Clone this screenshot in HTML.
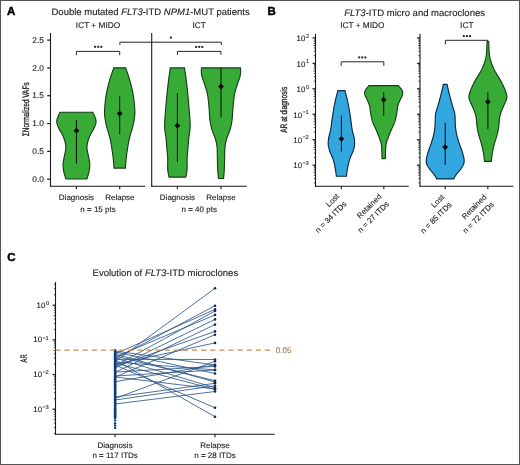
<!DOCTYPE html>
<html><head><meta charset="utf-8"><title>figure</title>
<style>
html,body{margin:0;padding:0;background:#fff;}
body{width:520px;height:465px;overflow:hidden;}
svg{display:block;font-family:"Liberation Sans", sans-serif;text-rendering:geometricPrecision;will-change:transform;}
</style></head>
<body>
<svg width="520" height="465" viewBox="0 0 520 465">
<rect x="0.5" y="0.5" width="519" height="464" fill="#fff" stroke="#555" stroke-width="1"/>
<text x="7.00" y="15.00" font-size="11.5" text-anchor="start" fill="#000" stroke="#000" stroke-width="0.12" font-weight="bold" style="stroke-width:0.45">A</text>
<text x="51.50" y="15.40" font-size="9.5" text-anchor="start" fill="#222" stroke="#222" stroke-width="0.12" >Double mutated <tspan font-style="italic">FLT3</tspan>-ITD <tspan font-style="italic">NPM1</tspan>-MUT patients</text>
<text x="98.00" y="27.90" font-size="8.3" text-anchor="middle" fill="#222" stroke="#222" stroke-width="0.12" >ICT + MIDO</text>
<text x="199.20" y="27.90" font-size="8.3" text-anchor="middle" fill="#222" stroke="#222" stroke-width="0.12" >ICT</text>
<line x1="50.50" y1="33.00" x2="50.50" y2="186.70" stroke="#1a1a1a" stroke-width="1.1" />
<line x1="50.00" y1="186.20" x2="145.40" y2="186.20" stroke="#1a1a1a" stroke-width="1.1" />
<line x1="47.20" y1="179.20" x2="50.50" y2="179.20" stroke="#1a1a1a" stroke-width="1.25" />
<text x="43.90" y="181.80" font-size="8.3" text-anchor="end" fill="#222" stroke="#222" stroke-width="0.12" >0.0</text>
<line x1="47.20" y1="151.38" x2="50.50" y2="151.38" stroke="#1a1a1a" stroke-width="1.25" />
<text x="43.90" y="153.98" font-size="8.3" text-anchor="end" fill="#222" stroke="#222" stroke-width="0.12" >0.5</text>
<line x1="47.20" y1="123.56" x2="50.50" y2="123.56" stroke="#1a1a1a" stroke-width="1.25" />
<text x="43.90" y="126.16" font-size="8.3" text-anchor="end" fill="#222" stroke="#222" stroke-width="0.12" >1.0</text>
<line x1="47.20" y1="95.74" x2="50.50" y2="95.74" stroke="#1a1a1a" stroke-width="1.25" />
<text x="43.90" y="98.34" font-size="8.3" text-anchor="end" fill="#222" stroke="#222" stroke-width="0.12" >1.5</text>
<line x1="47.20" y1="67.92" x2="50.50" y2="67.92" stroke="#1a1a1a" stroke-width="1.25" />
<text x="43.90" y="70.52" font-size="8.3" text-anchor="end" fill="#222" stroke="#222" stroke-width="0.12" >2.0</text>
<line x1="47.20" y1="40.10" x2="50.50" y2="40.10" stroke="#1a1a1a" stroke-width="1.25" />
<text x="43.90" y="42.70" font-size="8.3" text-anchor="end" fill="#222" stroke="#222" stroke-width="0.12" >2.5</text>
<line x1="76.40" y1="186.20" x2="76.40" y2="189.20" stroke="#1a1a1a" stroke-width="1.1" />
<line x1="119.70" y1="186.20" x2="119.70" y2="189.20" stroke="#1a1a1a" stroke-width="1.1" />
<line x1="151.70" y1="33.00" x2="151.70" y2="186.70" stroke="#1a1a1a" stroke-width="1.1" />
<line x1="151.20" y1="186.20" x2="246.70" y2="186.20" stroke="#1a1a1a" stroke-width="1.1" />
<line x1="177.40" y1="186.20" x2="177.40" y2="189.20" stroke="#1a1a1a" stroke-width="1.1" />
<line x1="221.00" y1="186.20" x2="221.00" y2="189.20" stroke="#1a1a1a" stroke-width="1.1" />
<text transform="translate(29.00,109.30) rotate(-90) scale(0.69,1)" font-size="9.4" text-anchor="middle" fill="#222" stroke="#222" stroke-width="0.3">&#931;Normalized VAFs</text>
<path d="M92.91,112.20 L93.09,112.76 L93.31,113.32 L93.56,113.88 L93.83,114.45 L94.09,115.01 L94.35,115.57 L94.60,116.13 L94.83,116.69 L95.06,117.25 L95.27,117.81 L95.47,118.37 L95.65,118.94 L95.80,119.50 L95.92,120.06 L96.01,120.62 L96.05,121.18 L96.05,121.74 L96.01,122.30 L95.93,122.87 L95.81,123.43 L95.66,123.99 L95.49,124.55 L95.30,125.11 L95.10,125.67 L94.88,126.23 L94.66,126.79 L94.42,127.36 L94.16,127.92 L93.89,128.48 L93.59,129.04 L93.28,129.60 L92.95,130.16 L92.61,130.72 L92.27,131.29 L91.92,131.85 L91.59,132.41 L91.26,132.97 L90.95,133.53 L90.65,134.09 L90.38,134.65 L90.11,135.22 L89.86,135.78 L89.62,136.34 L89.38,136.90 L89.16,137.46 L88.94,138.02 L88.73,138.58 L88.54,139.14 L88.35,139.71 L88.18,140.27 L88.02,140.83 L87.87,141.39 L87.74,141.95 L87.61,142.51 L87.49,143.07 L87.38,143.64 L87.28,144.20 L87.19,144.76 L87.11,145.32 L87.05,145.88 L87.00,146.44 L86.97,147.00 L86.97,147.56 L86.99,148.13 L87.02,148.69 L87.08,149.25 L87.16,149.81 L87.25,150.37 L87.35,150.93 L87.46,151.49 L87.57,152.06 L87.69,152.62 L87.82,153.18 L87.94,153.74 L88.05,154.30 L88.17,154.86 L88.28,155.42 L88.39,155.98 L88.51,156.55 L88.62,157.11 L88.73,157.67 L88.85,158.23 L88.97,158.79 L89.09,159.35 L89.20,159.91 L89.31,160.48 L89.41,161.04 L89.50,161.60 L89.58,162.16 L89.64,162.72 L89.69,163.28 L89.73,163.84 L89.75,164.41 L89.75,164.97 L89.74,165.53 L89.72,166.09 L89.69,166.65 L89.64,167.21 L89.59,167.77 L89.53,168.33 L89.46,168.90 L89.39,169.46 L89.31,170.02 L89.22,170.58 L89.12,171.14 L89.01,171.70 L88.88,172.26 L88.74,172.83 L88.59,173.39 L88.43,173.95 L88.26,174.51 L88.09,175.07 L87.91,175.63 L87.73,176.19 L87.56,176.75 L87.39,177.32 L87.23,177.88 L87.09,178.44 L86.98,179.00 L65.82,179.00 L65.71,178.44 L65.57,177.88 L65.41,177.32 L65.24,176.75 L65.07,176.19 L64.89,175.63 L64.71,175.07 L64.54,174.51 L64.37,173.95 L64.21,173.39 L64.06,172.83 L63.92,172.26 L63.79,171.70 L63.68,171.14 L63.58,170.58 L63.49,170.02 L63.41,169.46 L63.34,168.90 L63.27,168.33 L63.21,167.77 L63.16,167.21 L63.11,166.65 L63.08,166.09 L63.06,165.53 L63.05,164.97 L63.05,164.41 L63.07,163.84 L63.11,163.28 L63.16,162.72 L63.22,162.16 L63.30,161.60 L63.39,161.04 L63.49,160.48 L63.60,159.91 L63.71,159.35 L63.83,158.79 L63.95,158.23 L64.07,157.67 L64.18,157.11 L64.29,156.55 L64.41,155.98 L64.52,155.42 L64.63,154.86 L64.75,154.30 L64.86,153.74 L64.98,153.18 L65.11,152.62 L65.23,152.06 L65.34,151.49 L65.45,150.93 L65.55,150.37 L65.64,149.81 L65.72,149.25 L65.78,148.69 L65.81,148.13 L65.83,147.56 L65.83,147.00 L65.80,146.44 L65.75,145.88 L65.69,145.32 L65.61,144.76 L65.52,144.20 L65.42,143.64 L65.31,143.07 L65.19,142.51 L65.06,141.95 L64.93,141.39 L64.78,140.83 L64.62,140.27 L64.45,139.71 L64.26,139.14 L64.07,138.58 L63.86,138.02 L63.64,137.46 L63.42,136.90 L63.18,136.34 L62.94,135.78 L62.69,135.22 L62.42,134.65 L62.15,134.09 L61.85,133.53 L61.54,132.97 L61.21,132.41 L60.88,131.85 L60.53,131.29 L60.19,130.72 L59.85,130.16 L59.52,129.60 L59.21,129.04 L58.91,128.48 L58.64,127.92 L58.38,127.36 L58.14,126.79 L57.92,126.23 L57.70,125.67 L57.50,125.11 L57.31,124.55 L57.14,123.99 L56.99,123.43 L56.87,122.87 L56.79,122.30 L56.75,121.74 L56.75,121.18 L56.79,120.62 L56.88,120.06 L57.00,119.50 L57.15,118.94 L57.33,118.37 L57.53,117.81 L57.74,117.25 L57.97,116.69 L58.20,116.13 L58.45,115.57 L58.71,115.01 L58.97,114.45 L59.24,113.88 L59.49,113.32 L59.71,112.76 L59.89,112.20 Z" fill="#37ab36" stroke="#163f19" stroke-width="1.15" stroke-linejoin="round"/>
<line x1="76.40" y1="120.00" x2="76.40" y2="163.60" stroke="#0a0a0a" stroke-width="1.0" />
<path d="M76.40,127.80 L79.30,130.70 L76.40,133.60 L73.50,130.70 Z" fill="#0a0a0a"/>
<path d="M125.81,67.80 L126.00,68.64 L126.23,69.49 L126.49,70.33 L126.78,71.17 L127.08,72.01 L127.38,72.86 L127.67,73.70 L127.96,74.54 L128.25,75.39 L128.52,76.23 L128.79,77.07 L129.06,77.91 L129.32,78.76 L129.57,79.60 L129.82,80.44 L130.06,81.29 L130.30,82.13 L130.53,82.97 L130.76,83.81 L130.99,84.66 L131.20,85.50 L131.42,86.34 L131.63,87.19 L131.83,88.03 L132.02,88.87 L132.20,89.71 L132.38,90.56 L132.55,91.40 L132.71,92.24 L132.86,93.09 L133.01,93.93 L133.16,94.77 L133.30,95.61 L133.43,96.46 L133.57,97.30 L133.69,98.14 L133.81,98.99 L133.92,99.83 L134.03,100.67 L134.13,101.51 L134.22,102.36 L134.30,103.20 L134.38,104.04 L134.45,104.89 L134.52,105.73 L134.59,106.57 L134.65,107.41 L134.70,108.26 L134.75,109.10 L134.79,109.94 L134.82,110.79 L134.84,111.63 L134.85,112.47 L134.84,113.31 L134.81,114.16 L134.76,115.00 L134.70,115.84 L134.61,116.69 L134.51,117.53 L134.39,118.37 L134.26,119.21 L134.12,120.06 L133.96,120.90 L133.81,121.74 L133.65,122.59 L133.48,123.43 L133.30,124.27 L133.12,125.11 L132.93,125.96 L132.72,126.80 L132.50,127.64 L132.27,128.49 L132.02,129.33 L131.76,130.17 L131.50,131.01 L131.23,131.86 L130.97,132.70 L130.71,133.54 L130.45,134.39 L130.21,135.23 L129.97,136.07 L129.76,136.91 L129.55,137.76 L129.35,138.60 L129.17,139.44 L128.99,140.29 L128.82,141.13 L128.66,141.97 L128.50,142.81 L128.35,143.66 L128.20,144.50 L128.05,145.34 L127.91,146.19 L127.77,147.03 L127.64,147.87 L127.51,148.71 L127.38,149.56 L127.25,150.40 L127.13,151.24 L127.00,152.09 L126.88,152.93 L126.76,153.77 L126.65,154.61 L126.54,155.46 L126.43,156.30 L126.33,157.14 L126.23,157.99 L126.13,158.83 L126.04,159.67 L125.96,160.51 L125.88,161.36 L125.81,162.20 L125.74,163.04 L125.67,163.89 L125.61,164.73 L125.56,165.57 L125.51,166.41 L125.48,167.26 L125.45,168.10 L113.95,168.10 L113.92,167.26 L113.89,166.41 L113.84,165.57 L113.79,164.73 L113.73,163.89 L113.66,163.04 L113.59,162.20 L113.52,161.36 L113.44,160.51 L113.36,159.67 L113.27,158.83 L113.17,157.99 L113.07,157.14 L112.97,156.30 L112.86,155.46 L112.75,154.61 L112.64,153.77 L112.52,152.93 L112.40,152.09 L112.27,151.24 L112.15,150.40 L112.02,149.56 L111.89,148.71 L111.76,147.87 L111.63,147.03 L111.49,146.19 L111.35,145.34 L111.20,144.50 L111.05,143.66 L110.90,142.81 L110.74,141.97 L110.58,141.13 L110.41,140.29 L110.23,139.44 L110.05,138.60 L109.85,137.76 L109.64,136.91 L109.43,136.07 L109.19,135.23 L108.95,134.39 L108.69,133.54 L108.43,132.70 L108.17,131.86 L107.90,131.01 L107.64,130.17 L107.38,129.33 L107.13,128.49 L106.90,127.64 L106.68,126.80 L106.47,125.96 L106.28,125.11 L106.10,124.27 L105.92,123.43 L105.75,122.59 L105.59,121.74 L105.44,120.90 L105.28,120.06 L105.14,119.21 L105.01,118.37 L104.89,117.53 L104.79,116.69 L104.70,115.84 L104.64,115.00 L104.59,114.16 L104.56,113.31 L104.55,112.47 L104.56,111.63 L104.58,110.79 L104.61,109.94 L104.65,109.10 L104.70,108.26 L104.75,107.41 L104.81,106.57 L104.88,105.73 L104.95,104.89 L105.02,104.04 L105.10,103.20 L105.18,102.36 L105.27,101.51 L105.37,100.67 L105.48,99.83 L105.59,98.99 L105.71,98.14 L105.83,97.30 L105.97,96.46 L106.10,95.61 L106.24,94.77 L106.39,93.93 L106.54,93.09 L106.69,92.24 L106.85,91.40 L107.02,90.56 L107.20,89.71 L107.38,88.87 L107.57,88.03 L107.77,87.19 L107.98,86.34 L108.20,85.50 L108.41,84.66 L108.64,83.81 L108.87,82.97 L109.10,82.13 L109.34,81.29 L109.58,80.44 L109.83,79.60 L110.08,78.76 L110.34,77.91 L110.61,77.07 L110.88,76.23 L111.15,75.39 L111.44,74.54 L111.73,73.70 L112.02,72.86 L112.32,72.01 L112.62,71.17 L112.91,70.33 L113.17,69.49 L113.40,68.64 L113.59,67.80 Z" fill="#37ab36" stroke="#163f19" stroke-width="1.15" stroke-linejoin="round"/>
<line x1="119.70" y1="96.30" x2="119.70" y2="134.00" stroke="#0a0a0a" stroke-width="1.0" />
<path d="M119.70,110.70 L122.60,113.60 L119.70,116.50 L116.80,113.60 Z" fill="#0a0a0a"/>
<path d="M184.54,67.90 L184.63,68.82 L184.74,69.74 L184.86,70.65 L185.00,71.57 L185.14,72.49 L185.28,73.41 L185.42,74.32 L185.55,75.24 L185.69,76.16 L185.82,77.08 L185.95,77.99 L186.07,78.91 L186.19,79.83 L186.31,80.75 L186.42,81.66 L186.54,82.58 L186.65,83.50 L186.75,84.42 L186.86,85.34 L186.96,86.25 L187.06,87.17 L187.16,88.09 L187.26,89.01 L187.36,89.92 L187.45,90.84 L187.55,91.76 L187.64,92.68 L187.73,93.59 L187.82,94.51 L187.91,95.43 L187.99,96.35 L188.08,97.26 L188.17,98.18 L188.25,99.10 L188.34,100.02 L188.42,100.94 L188.50,101.85 L188.59,102.77 L188.67,103.69 L188.75,104.61 L188.83,105.52 L188.91,106.44 L188.99,107.36 L189.07,108.28 L189.15,109.19 L189.23,110.11 L189.30,111.03 L189.37,111.95 L189.44,112.86 L189.51,113.78 L189.58,114.70 L189.64,115.62 L189.70,116.54 L189.76,117.45 L189.82,118.37 L189.88,119.29 L189.94,120.21 L189.99,121.12 L190.04,122.04 L190.08,122.96 L190.11,123.88 L190.14,124.79 L190.14,125.71 L190.12,126.63 L190.09,127.55 L190.03,128.46 L189.95,129.38 L189.86,130.30 L189.74,131.22 L189.62,132.14 L189.49,133.05 L189.35,133.97 L189.21,134.89 L189.08,135.81 L188.96,136.72 L188.84,137.64 L188.74,138.56 L188.64,139.48 L188.55,140.39 L188.47,141.31 L188.39,142.23 L188.31,143.15 L188.24,144.06 L188.17,144.98 L188.10,145.90 L188.03,146.82 L187.96,147.74 L187.89,148.65 L187.82,149.57 L187.75,150.49 L187.67,151.41 L187.59,152.32 L187.50,153.24 L187.41,154.16 L187.32,155.08 L187.24,155.99 L187.17,156.91 L187.11,157.83 L187.07,158.75 L187.05,159.66 L187.04,160.58 L187.05,161.50 L187.06,162.42 L187.08,163.34 L187.10,164.25 L187.13,165.17 L187.14,166.09 L187.15,167.01 L187.14,167.92 L187.12,168.84 L187.06,169.76 L186.98,170.68 L186.86,171.59 L186.71,172.51 L186.54,173.43 L186.35,174.35 L186.16,175.26 L185.99,176.18 L185.85,177.10 L168.95,177.10 L168.81,176.18 L168.64,175.26 L168.45,174.35 L168.26,173.43 L168.09,172.51 L167.94,171.59 L167.82,170.68 L167.74,169.76 L167.68,168.84 L167.66,167.92 L167.65,167.01 L167.66,166.09 L167.67,165.17 L167.70,164.25 L167.72,163.34 L167.74,162.42 L167.75,161.50 L167.76,160.58 L167.75,159.66 L167.73,158.75 L167.69,157.83 L167.63,156.91 L167.56,155.99 L167.48,155.08 L167.39,154.16 L167.30,153.24 L167.21,152.32 L167.13,151.41 L167.05,150.49 L166.98,149.57 L166.91,148.65 L166.84,147.74 L166.77,146.82 L166.70,145.90 L166.63,144.98 L166.56,144.06 L166.49,143.15 L166.41,142.23 L166.33,141.31 L166.25,140.39 L166.16,139.48 L166.06,138.56 L165.96,137.64 L165.84,136.72 L165.72,135.81 L165.59,134.89 L165.45,133.97 L165.31,133.05 L165.18,132.14 L165.06,131.22 L164.94,130.30 L164.85,129.38 L164.77,128.46 L164.71,127.55 L164.68,126.63 L164.66,125.71 L164.66,124.79 L164.69,123.88 L164.72,122.96 L164.76,122.04 L164.81,121.12 L164.86,120.21 L164.92,119.29 L164.98,118.37 L165.04,117.45 L165.10,116.54 L165.16,115.62 L165.22,114.70 L165.29,113.78 L165.36,112.86 L165.43,111.95 L165.50,111.03 L165.57,110.11 L165.65,109.19 L165.73,108.28 L165.81,107.36 L165.89,106.44 L165.97,105.52 L166.05,104.61 L166.13,103.69 L166.21,102.77 L166.30,101.85 L166.38,100.94 L166.46,100.02 L166.55,99.10 L166.63,98.18 L166.72,97.26 L166.81,96.35 L166.89,95.43 L166.98,94.51 L167.07,93.59 L167.16,92.68 L167.25,91.76 L167.35,90.84 L167.44,89.92 L167.54,89.01 L167.64,88.09 L167.74,87.17 L167.84,86.25 L167.94,85.34 L168.05,84.42 L168.15,83.50 L168.26,82.58 L168.38,81.66 L168.49,80.75 L168.61,79.83 L168.73,78.91 L168.85,77.99 L168.98,77.08 L169.11,76.16 L169.25,75.24 L169.38,74.32 L169.52,73.41 L169.66,72.49 L169.80,71.57 L169.94,70.65 L170.06,69.74 L170.17,68.82 L170.26,67.90 Z" fill="#37ab36" stroke="#163f19" stroke-width="1.15" stroke-linejoin="round"/>
<line x1="177.40" y1="93.00" x2="177.40" y2="162.00" stroke="#0a0a0a" stroke-width="1.0" />
<path d="M177.40,122.70 L180.30,125.60 L177.40,128.50 L174.50,125.60 Z" fill="#0a0a0a"/>
<path d="M240.56,67.90 L240.58,68.83 L240.61,69.76 L240.63,70.69 L240.63,71.62 L240.61,72.55 L240.55,73.48 L240.44,74.41 L240.29,75.34 L240.08,76.26 L239.82,77.19 L239.53,78.12 L239.21,79.05 L238.89,79.98 L238.57,80.91 L238.25,81.84 L237.93,82.77 L237.62,83.70 L237.30,84.63 L236.99,85.56 L236.68,86.49 L236.37,87.42 L236.07,88.35 L235.78,89.28 L235.51,90.21 L235.25,91.14 L235.02,92.06 L234.80,92.99 L234.61,93.92 L234.44,94.85 L234.28,95.78 L234.14,96.71 L234.01,97.64 L233.88,98.57 L233.77,99.50 L233.66,100.43 L233.55,101.36 L233.46,102.29 L233.36,103.22 L233.27,104.15 L233.19,105.08 L233.10,106.01 L233.03,106.94 L232.96,107.86 L232.89,108.79 L232.82,109.72 L232.76,110.65 L232.71,111.58 L232.65,112.51 L232.60,113.44 L232.54,114.37 L232.48,115.30 L232.41,116.23 L232.34,117.16 L232.25,118.09 L232.16,119.02 L232.05,119.95 L231.92,120.88 L231.78,121.81 L231.63,122.74 L231.46,123.66 L231.28,124.59 L231.09,125.52 L230.88,126.45 L230.65,127.38 L230.41,128.31 L230.15,129.24 L229.86,130.17 L229.55,131.10 L229.21,132.03 L228.85,132.96 L228.47,133.89 L228.10,134.82 L227.72,135.75 L227.36,136.68 L227.03,137.61 L226.71,138.54 L226.43,139.46 L226.17,140.39 L225.94,141.32 L225.73,142.25 L225.54,143.18 L225.36,144.11 L225.21,145.04 L225.08,145.97 L224.98,146.90 L224.89,147.83 L224.83,148.76 L224.79,149.69 L224.75,150.62 L224.73,151.55 L224.71,152.48 L224.69,153.41 L224.68,154.34 L224.67,155.26 L224.65,156.19 L224.64,157.12 L224.62,158.05 L224.60,158.98 L224.58,159.91 L224.56,160.84 L224.54,161.77 L224.51,162.70 L224.49,163.63 L224.46,164.56 L224.43,165.49 L224.40,166.42 L224.37,167.35 L224.33,168.28 L224.29,169.21 L224.25,170.14 L224.20,171.06 L224.14,171.99 L224.07,172.92 L223.99,173.85 L223.90,174.78 L223.80,175.71 L223.70,176.64 L223.61,177.57 L223.53,178.50 L218.47,178.50 L218.39,177.57 L218.30,176.64 L218.20,175.71 L218.10,174.78 L218.01,173.85 L217.93,172.92 L217.86,171.99 L217.80,171.06 L217.75,170.14 L217.71,169.21 L217.67,168.28 L217.63,167.35 L217.60,166.42 L217.57,165.49 L217.54,164.56 L217.51,163.63 L217.49,162.70 L217.46,161.77 L217.44,160.84 L217.42,159.91 L217.40,158.98 L217.38,158.05 L217.36,157.12 L217.35,156.19 L217.33,155.26 L217.32,154.34 L217.31,153.41 L217.29,152.48 L217.27,151.55 L217.25,150.62 L217.21,149.69 L217.17,148.76 L217.11,147.83 L217.02,146.90 L216.92,145.97 L216.79,145.04 L216.64,144.11 L216.46,143.18 L216.27,142.25 L216.06,141.32 L215.83,140.39 L215.57,139.46 L215.29,138.54 L214.97,137.61 L214.64,136.68 L214.28,135.75 L213.90,134.82 L213.53,133.89 L213.15,132.96 L212.79,132.03 L212.45,131.10 L212.14,130.17 L211.85,129.24 L211.59,128.31 L211.35,127.38 L211.12,126.45 L210.91,125.52 L210.72,124.59 L210.54,123.66 L210.37,122.74 L210.22,121.81 L210.08,120.88 L209.95,119.95 L209.84,119.02 L209.75,118.09 L209.66,117.16 L209.59,116.23 L209.52,115.30 L209.46,114.37 L209.40,113.44 L209.35,112.51 L209.29,111.58 L209.24,110.65 L209.18,109.72 L209.11,108.79 L209.04,107.86 L208.97,106.94 L208.90,106.01 L208.81,105.08 L208.73,104.15 L208.64,103.22 L208.54,102.29 L208.45,101.36 L208.34,100.43 L208.23,99.50 L208.12,98.57 L207.99,97.64 L207.86,96.71 L207.72,95.78 L207.56,94.85 L207.39,93.92 L207.20,92.99 L206.98,92.06 L206.75,91.14 L206.49,90.21 L206.22,89.28 L205.93,88.35 L205.63,87.42 L205.32,86.49 L205.01,85.56 L204.70,84.63 L204.38,83.70 L204.07,82.77 L203.75,81.84 L203.43,80.91 L203.11,79.98 L202.79,79.05 L202.47,78.12 L202.18,77.19 L201.92,76.26 L201.71,75.34 L201.56,74.41 L201.45,73.48 L201.39,72.55 L201.37,71.62 L201.37,70.69 L201.39,69.76 L201.42,68.83 L201.44,67.90 Z" fill="#37ab36" stroke="#163f19" stroke-width="1.15" stroke-linejoin="round"/>
<line x1="221.00" y1="67.90" x2="221.00" y2="117.40" stroke="#0a0a0a" stroke-width="1.0" />
<path d="M221.00,83.60 L223.90,86.50 L221.00,89.40 L218.10,86.50 Z" fill="#0a0a0a"/>
<path d="M76.40,55.20 L76.40,51.40 L119.70,51.40 L119.70,55.20" fill="none" stroke="#262626" stroke-width="1.0"/>
<rect x="94.10" y="45.80" width="2.0" height="2.0" fill="#2a2a2a"/>
<rect x="97.20" y="45.80" width="2.0" height="2.0" fill="#2a2a2a"/>
<rect x="100.30" y="45.80" width="2.0" height="2.0" fill="#2a2a2a"/>
<path d="M177.40,54.80 L177.40,51.40 L221.00,51.40 L221.00,54.80" fill="none" stroke="#262626" stroke-width="1.0"/>
<rect x="195.10" y="45.90" width="2.0" height="2.0" fill="#2a2a2a"/>
<rect x="198.20" y="45.90" width="2.0" height="2.0" fill="#2a2a2a"/>
<rect x="201.30" y="45.90" width="2.0" height="2.0" fill="#2a2a2a"/>
<path d="M119.90,44.80 L119.90,42.20 L221.30,42.20 L221.30,45.00" fill="none" stroke="#262626" stroke-width="1.0"/>
<rect x="169.90" y="36.60" width="2.0" height="2.0" fill="#2a2a2a"/>
<text x="76.40" y="199.80" font-size="8.0" text-anchor="middle" fill="#222" stroke="#222" stroke-width="0.12" >Diagnosis</text>
<text x="119.90" y="199.80" font-size="8.0" text-anchor="middle" fill="#222" stroke="#222" stroke-width="0.12" >Relapse</text>
<text x="98.00" y="211.90" font-size="8.0" text-anchor="middle" fill="#222" stroke="#222" stroke-width="0.12" >n = 15 pts</text>
<text x="177.40" y="199.80" font-size="8.0" text-anchor="middle" fill="#222" stroke="#222" stroke-width="0.12" >Diagnosis</text>
<text x="221.00" y="199.80" font-size="8.0" text-anchor="middle" fill="#222" stroke="#222" stroke-width="0.12" >Relapse</text>
<text x="199.20" y="211.90" font-size="8.0" text-anchor="middle" fill="#222" stroke="#222" stroke-width="0.12" >n = 40 pts</text>
<text x="267.50" y="14.90" font-size="11.5" text-anchor="start" fill="#000" stroke="#000" stroke-width="0.12" font-weight="bold" style="stroke-width:0.45">B</text>
<text x="344.20" y="15.50" font-size="9.5" text-anchor="start" fill="#222" stroke="#222" stroke-width="0.12" ><tspan font-style="italic">FLT3</tspan>-ITD micro and macroclones</text>
<text x="362.30" y="28.10" font-size="8.3" text-anchor="middle" fill="#222" stroke="#222" stroke-width="0.12" >ICT + MIDO</text>
<text x="466.80" y="28.10" font-size="8.3" text-anchor="middle" fill="#222" stroke="#222" stroke-width="0.12" >ICT</text>
<line x1="315.50" y1="33.80" x2="315.50" y2="186.70" stroke="#1a1a1a" stroke-width="1.1" />
<line x1="313.90" y1="182.98" x2="315.50" y2="182.98" stroke="#1a1a1a" stroke-width="0.8" />
<line x1="313.90" y1="178.49" x2="315.50" y2="178.49" stroke="#1a1a1a" stroke-width="0.8" />
<line x1="313.90" y1="175.31" x2="315.50" y2="175.31" stroke="#1a1a1a" stroke-width="0.8" />
<line x1="313.50" y1="172.84" x2="315.50" y2="172.84" stroke="#1a1a1a" stroke-width="0.8" />
<line x1="313.90" y1="170.83" x2="315.50" y2="170.83" stroke="#1a1a1a" stroke-width="0.8" />
<line x1="313.90" y1="169.12" x2="315.50" y2="169.12" stroke="#1a1a1a" stroke-width="0.8" />
<line x1="313.90" y1="167.65" x2="315.50" y2="167.65" stroke="#1a1a1a" stroke-width="0.8" />
<line x1="313.90" y1="166.34" x2="315.50" y2="166.34" stroke="#1a1a1a" stroke-width="0.8" />
<line x1="312.50" y1="165.18" x2="315.50" y2="165.18" stroke="#1a1a1a" stroke-width="1.2" />
<text x="302.10" y="168.48" font-size="7.9" text-anchor="end" fill="#222" stroke="#222" stroke-width="0.12">10</text>
<text x="302.60" y="164.88" font-size="5.8" letter-spacing="-0.5" fill="#222" stroke="#222" stroke-width="0.08">&#8722;3</text>
<line x1="313.90" y1="157.52" x2="315.50" y2="157.52" stroke="#1a1a1a" stroke-width="0.8" />
<line x1="313.90" y1="153.03" x2="315.50" y2="153.03" stroke="#1a1a1a" stroke-width="0.8" />
<line x1="313.90" y1="149.85" x2="315.50" y2="149.85" stroke="#1a1a1a" stroke-width="0.8" />
<line x1="313.50" y1="147.38" x2="315.50" y2="147.38" stroke="#1a1a1a" stroke-width="0.8" />
<line x1="313.90" y1="145.37" x2="315.50" y2="145.37" stroke="#1a1a1a" stroke-width="0.8" />
<line x1="313.90" y1="143.66" x2="315.50" y2="143.66" stroke="#1a1a1a" stroke-width="0.8" />
<line x1="313.90" y1="142.19" x2="315.50" y2="142.19" stroke="#1a1a1a" stroke-width="0.8" />
<line x1="313.90" y1="140.88" x2="315.50" y2="140.88" stroke="#1a1a1a" stroke-width="0.8" />
<line x1="312.50" y1="139.72" x2="315.50" y2="139.72" stroke="#1a1a1a" stroke-width="1.2" />
<text x="302.10" y="143.02" font-size="7.9" text-anchor="end" fill="#222" stroke="#222" stroke-width="0.12">10</text>
<text x="302.60" y="139.42" font-size="5.8" letter-spacing="-0.5" fill="#222" stroke="#222" stroke-width="0.08">&#8722;2</text>
<line x1="313.90" y1="132.06" x2="315.50" y2="132.06" stroke="#1a1a1a" stroke-width="0.8" />
<line x1="313.90" y1="127.57" x2="315.50" y2="127.57" stroke="#1a1a1a" stroke-width="0.8" />
<line x1="313.90" y1="124.39" x2="315.50" y2="124.39" stroke="#1a1a1a" stroke-width="0.8" />
<line x1="313.50" y1="121.92" x2="315.50" y2="121.92" stroke="#1a1a1a" stroke-width="0.8" />
<line x1="313.90" y1="119.91" x2="315.50" y2="119.91" stroke="#1a1a1a" stroke-width="0.8" />
<line x1="313.90" y1="118.20" x2="315.50" y2="118.20" stroke="#1a1a1a" stroke-width="0.8" />
<line x1="313.90" y1="116.73" x2="315.50" y2="116.73" stroke="#1a1a1a" stroke-width="0.8" />
<line x1="313.90" y1="115.42" x2="315.50" y2="115.42" stroke="#1a1a1a" stroke-width="0.8" />
<line x1="312.50" y1="114.26" x2="315.50" y2="114.26" stroke="#1a1a1a" stroke-width="1.2" />
<text x="302.10" y="117.56" font-size="7.9" text-anchor="end" fill="#222" stroke="#222" stroke-width="0.12">10</text>
<text x="302.60" y="113.96" font-size="5.8" letter-spacing="-0.5" fill="#222" stroke="#222" stroke-width="0.08">&#8722;1</text>
<line x1="313.90" y1="106.60" x2="315.50" y2="106.60" stroke="#1a1a1a" stroke-width="0.8" />
<line x1="313.90" y1="102.11" x2="315.50" y2="102.11" stroke="#1a1a1a" stroke-width="0.8" />
<line x1="313.90" y1="98.93" x2="315.50" y2="98.93" stroke="#1a1a1a" stroke-width="0.8" />
<line x1="313.50" y1="96.46" x2="315.50" y2="96.46" stroke="#1a1a1a" stroke-width="0.8" />
<line x1="313.90" y1="94.45" x2="315.50" y2="94.45" stroke="#1a1a1a" stroke-width="0.8" />
<line x1="313.90" y1="92.74" x2="315.50" y2="92.74" stroke="#1a1a1a" stroke-width="0.8" />
<line x1="313.90" y1="91.27" x2="315.50" y2="91.27" stroke="#1a1a1a" stroke-width="0.8" />
<line x1="313.90" y1="89.96" x2="315.50" y2="89.96" stroke="#1a1a1a" stroke-width="0.8" />
<line x1="312.50" y1="88.80" x2="315.50" y2="88.80" stroke="#1a1a1a" stroke-width="1.2" />
<text x="305.40" y="92.10" font-size="7.9" text-anchor="end" fill="#222" stroke="#222" stroke-width="0.12">10</text>
<text x="305.90" y="88.50" font-size="5.8" letter-spacing="-0.5" fill="#222" stroke="#222" stroke-width="0.08">0</text>
<line x1="313.90" y1="81.14" x2="315.50" y2="81.14" stroke="#1a1a1a" stroke-width="0.8" />
<line x1="313.90" y1="76.65" x2="315.50" y2="76.65" stroke="#1a1a1a" stroke-width="0.8" />
<line x1="313.90" y1="73.47" x2="315.50" y2="73.47" stroke="#1a1a1a" stroke-width="0.8" />
<line x1="313.50" y1="71.00" x2="315.50" y2="71.00" stroke="#1a1a1a" stroke-width="0.8" />
<line x1="313.90" y1="68.99" x2="315.50" y2="68.99" stroke="#1a1a1a" stroke-width="0.8" />
<line x1="313.90" y1="67.28" x2="315.50" y2="67.28" stroke="#1a1a1a" stroke-width="0.8" />
<line x1="313.90" y1="65.81" x2="315.50" y2="65.81" stroke="#1a1a1a" stroke-width="0.8" />
<line x1="313.90" y1="64.50" x2="315.50" y2="64.50" stroke="#1a1a1a" stroke-width="0.8" />
<line x1="312.50" y1="63.34" x2="315.50" y2="63.34" stroke="#1a1a1a" stroke-width="1.2" />
<text x="305.40" y="66.64" font-size="7.9" text-anchor="end" fill="#222" stroke="#222" stroke-width="0.12">10</text>
<text x="305.90" y="63.04" font-size="5.8" letter-spacing="-0.5" fill="#222" stroke="#222" stroke-width="0.08">1</text>
<line x1="313.90" y1="55.68" x2="315.50" y2="55.68" stroke="#1a1a1a" stroke-width="0.8" />
<line x1="313.90" y1="51.19" x2="315.50" y2="51.19" stroke="#1a1a1a" stroke-width="0.8" />
<line x1="313.90" y1="48.01" x2="315.50" y2="48.01" stroke="#1a1a1a" stroke-width="0.8" />
<line x1="313.50" y1="45.54" x2="315.50" y2="45.54" stroke="#1a1a1a" stroke-width="0.8" />
<line x1="313.90" y1="43.53" x2="315.50" y2="43.53" stroke="#1a1a1a" stroke-width="0.8" />
<line x1="313.90" y1="41.82" x2="315.50" y2="41.82" stroke="#1a1a1a" stroke-width="0.8" />
<line x1="313.90" y1="40.35" x2="315.50" y2="40.35" stroke="#1a1a1a" stroke-width="0.8" />
<line x1="313.90" y1="39.04" x2="315.50" y2="39.04" stroke="#1a1a1a" stroke-width="0.8" />
<line x1="312.50" y1="37.88" x2="315.50" y2="37.88" stroke="#1a1a1a" stroke-width="1.2" />
<text x="305.40" y="41.18" font-size="7.9" text-anchor="end" fill="#222" stroke="#222" stroke-width="0.12">10</text>
<text x="305.90" y="37.58" font-size="5.8" letter-spacing="-0.5" fill="#222" stroke="#222" stroke-width="0.08">2</text>
<line x1="315.00" y1="186.20" x2="408.80" y2="186.20" stroke="#1a1a1a" stroke-width="1.1" />
<line x1="420.00" y1="33.80" x2="420.00" y2="186.70" stroke="#1a1a1a" stroke-width="1.1" />
<line x1="418.40" y1="182.98" x2="420.00" y2="182.98" stroke="#1a1a1a" stroke-width="0.8" />
<line x1="418.40" y1="178.49" x2="420.00" y2="178.49" stroke="#1a1a1a" stroke-width="0.8" />
<line x1="418.40" y1="175.31" x2="420.00" y2="175.31" stroke="#1a1a1a" stroke-width="0.8" />
<line x1="418.00" y1="172.84" x2="420.00" y2="172.84" stroke="#1a1a1a" stroke-width="0.8" />
<line x1="418.40" y1="170.83" x2="420.00" y2="170.83" stroke="#1a1a1a" stroke-width="0.8" />
<line x1="418.40" y1="169.12" x2="420.00" y2="169.12" stroke="#1a1a1a" stroke-width="0.8" />
<line x1="418.40" y1="167.65" x2="420.00" y2="167.65" stroke="#1a1a1a" stroke-width="0.8" />
<line x1="418.40" y1="166.34" x2="420.00" y2="166.34" stroke="#1a1a1a" stroke-width="0.8" />
<line x1="417.00" y1="165.18" x2="420.00" y2="165.18" stroke="#1a1a1a" stroke-width="1.2" />
<line x1="418.40" y1="157.52" x2="420.00" y2="157.52" stroke="#1a1a1a" stroke-width="0.8" />
<line x1="418.40" y1="153.03" x2="420.00" y2="153.03" stroke="#1a1a1a" stroke-width="0.8" />
<line x1="418.40" y1="149.85" x2="420.00" y2="149.85" stroke="#1a1a1a" stroke-width="0.8" />
<line x1="418.00" y1="147.38" x2="420.00" y2="147.38" stroke="#1a1a1a" stroke-width="0.8" />
<line x1="418.40" y1="145.37" x2="420.00" y2="145.37" stroke="#1a1a1a" stroke-width="0.8" />
<line x1="418.40" y1="143.66" x2="420.00" y2="143.66" stroke="#1a1a1a" stroke-width="0.8" />
<line x1="418.40" y1="142.19" x2="420.00" y2="142.19" stroke="#1a1a1a" stroke-width="0.8" />
<line x1="418.40" y1="140.88" x2="420.00" y2="140.88" stroke="#1a1a1a" stroke-width="0.8" />
<line x1="417.00" y1="139.72" x2="420.00" y2="139.72" stroke="#1a1a1a" stroke-width="1.2" />
<line x1="418.40" y1="132.06" x2="420.00" y2="132.06" stroke="#1a1a1a" stroke-width="0.8" />
<line x1="418.40" y1="127.57" x2="420.00" y2="127.57" stroke="#1a1a1a" stroke-width="0.8" />
<line x1="418.40" y1="124.39" x2="420.00" y2="124.39" stroke="#1a1a1a" stroke-width="0.8" />
<line x1="418.00" y1="121.92" x2="420.00" y2="121.92" stroke="#1a1a1a" stroke-width="0.8" />
<line x1="418.40" y1="119.91" x2="420.00" y2="119.91" stroke="#1a1a1a" stroke-width="0.8" />
<line x1="418.40" y1="118.20" x2="420.00" y2="118.20" stroke="#1a1a1a" stroke-width="0.8" />
<line x1="418.40" y1="116.73" x2="420.00" y2="116.73" stroke="#1a1a1a" stroke-width="0.8" />
<line x1="418.40" y1="115.42" x2="420.00" y2="115.42" stroke="#1a1a1a" stroke-width="0.8" />
<line x1="417.00" y1="114.26" x2="420.00" y2="114.26" stroke="#1a1a1a" stroke-width="1.2" />
<line x1="418.40" y1="106.60" x2="420.00" y2="106.60" stroke="#1a1a1a" stroke-width="0.8" />
<line x1="418.40" y1="102.11" x2="420.00" y2="102.11" stroke="#1a1a1a" stroke-width="0.8" />
<line x1="418.40" y1="98.93" x2="420.00" y2="98.93" stroke="#1a1a1a" stroke-width="0.8" />
<line x1="418.00" y1="96.46" x2="420.00" y2="96.46" stroke="#1a1a1a" stroke-width="0.8" />
<line x1="418.40" y1="94.45" x2="420.00" y2="94.45" stroke="#1a1a1a" stroke-width="0.8" />
<line x1="418.40" y1="92.74" x2="420.00" y2="92.74" stroke="#1a1a1a" stroke-width="0.8" />
<line x1="418.40" y1="91.27" x2="420.00" y2="91.27" stroke="#1a1a1a" stroke-width="0.8" />
<line x1="418.40" y1="89.96" x2="420.00" y2="89.96" stroke="#1a1a1a" stroke-width="0.8" />
<line x1="417.00" y1="88.80" x2="420.00" y2="88.80" stroke="#1a1a1a" stroke-width="1.2" />
<line x1="418.40" y1="81.14" x2="420.00" y2="81.14" stroke="#1a1a1a" stroke-width="0.8" />
<line x1="418.40" y1="76.65" x2="420.00" y2="76.65" stroke="#1a1a1a" stroke-width="0.8" />
<line x1="418.40" y1="73.47" x2="420.00" y2="73.47" stroke="#1a1a1a" stroke-width="0.8" />
<line x1="418.00" y1="71.00" x2="420.00" y2="71.00" stroke="#1a1a1a" stroke-width="0.8" />
<line x1="418.40" y1="68.99" x2="420.00" y2="68.99" stroke="#1a1a1a" stroke-width="0.8" />
<line x1="418.40" y1="67.28" x2="420.00" y2="67.28" stroke="#1a1a1a" stroke-width="0.8" />
<line x1="418.40" y1="65.81" x2="420.00" y2="65.81" stroke="#1a1a1a" stroke-width="0.8" />
<line x1="418.40" y1="64.50" x2="420.00" y2="64.50" stroke="#1a1a1a" stroke-width="0.8" />
<line x1="417.00" y1="63.34" x2="420.00" y2="63.34" stroke="#1a1a1a" stroke-width="1.2" />
<line x1="418.40" y1="55.68" x2="420.00" y2="55.68" stroke="#1a1a1a" stroke-width="0.8" />
<line x1="418.40" y1="51.19" x2="420.00" y2="51.19" stroke="#1a1a1a" stroke-width="0.8" />
<line x1="418.40" y1="48.01" x2="420.00" y2="48.01" stroke="#1a1a1a" stroke-width="0.8" />
<line x1="418.00" y1="45.54" x2="420.00" y2="45.54" stroke="#1a1a1a" stroke-width="0.8" />
<line x1="418.40" y1="43.53" x2="420.00" y2="43.53" stroke="#1a1a1a" stroke-width="0.8" />
<line x1="418.40" y1="41.82" x2="420.00" y2="41.82" stroke="#1a1a1a" stroke-width="0.8" />
<line x1="418.40" y1="40.35" x2="420.00" y2="40.35" stroke="#1a1a1a" stroke-width="0.8" />
<line x1="418.40" y1="39.04" x2="420.00" y2="39.04" stroke="#1a1a1a" stroke-width="0.8" />
<line x1="417.00" y1="37.88" x2="420.00" y2="37.88" stroke="#1a1a1a" stroke-width="1.2" />
<line x1="419.50" y1="186.20" x2="513.30" y2="186.20" stroke="#1a1a1a" stroke-width="1.1" />
<line x1="341.30" y1="186.20" x2="341.30" y2="189.20" stroke="#1a1a1a" stroke-width="1.1" />
<line x1="383.80" y1="186.20" x2="383.80" y2="189.20" stroke="#1a1a1a" stroke-width="1.1" />
<line x1="445.20" y1="186.20" x2="445.20" y2="189.20" stroke="#1a1a1a" stroke-width="1.1" />
<line x1="487.80" y1="186.20" x2="487.80" y2="189.20" stroke="#1a1a1a" stroke-width="1.1" />
<text transform="translate(286.60,109.80) rotate(-90) scale(0.7,1)" font-size="9.4" text-anchor="middle" fill="#222" stroke="#222" stroke-width="0.3">AR at diagnosis</text>
<path d="M345.01,90.60 L345.13,91.32 L345.28,92.04 L345.46,92.76 L345.65,93.48 L345.85,94.20 L346.05,94.92 L346.25,95.64 L346.44,96.35 L346.62,97.07 L346.81,97.79 L346.99,98.51 L347.16,99.23 L347.33,99.95 L347.49,100.67 L347.65,101.39 L347.80,102.11 L347.95,102.83 L348.10,103.55 L348.24,104.27 L348.38,104.99 L348.52,105.71 L348.65,106.43 L348.78,107.14 L348.91,107.86 L349.04,108.58 L349.16,109.30 L349.28,110.02 L349.40,110.74 L349.52,111.46 L349.64,112.18 L349.76,112.90 L349.87,113.62 L349.99,114.34 L350.10,115.06 L350.21,115.78 L350.32,116.50 L350.43,117.22 L350.53,117.93 L350.64,118.65 L350.74,119.37 L350.85,120.09 L350.95,120.81 L351.05,121.53 L351.14,122.25 L351.24,122.97 L351.33,123.69 L351.42,124.41 L351.51,125.13 L351.60,125.85 L351.69,126.57 L351.78,127.29 L351.88,128.01 L351.98,128.72 L352.10,129.44 L352.24,130.16 L352.39,130.88 L352.55,131.60 L352.73,132.32 L352.93,133.04 L353.13,133.76 L353.33,134.48 L353.52,135.20 L353.71,135.92 L353.88,136.64 L354.03,137.36 L354.16,138.08 L354.27,138.79 L354.37,139.51 L354.45,140.23 L354.51,140.95 L354.57,141.67 L354.60,142.39 L354.62,143.11 L354.61,143.83 L354.57,144.55 L354.50,145.27 L354.40,145.99 L354.27,146.71 L354.10,147.43 L353.92,148.15 L353.71,148.87 L353.50,149.58 L353.27,150.30 L353.03,151.02 L352.78,151.74 L352.51,152.46 L352.23,153.18 L351.94,153.90 L351.63,154.62 L351.32,155.34 L351.00,156.06 L350.69,156.78 L350.39,157.50 L350.10,158.22 L349.83,158.94 L349.58,159.66 L349.35,160.37 L349.14,161.09 L348.95,161.81 L348.76,162.53 L348.59,163.25 L348.43,163.97 L348.28,164.69 L348.13,165.41 L347.99,166.13 L347.85,166.85 L347.72,167.57 L347.59,168.29 L347.46,169.01 L347.34,169.73 L347.22,170.45 L347.10,171.16 L346.99,171.88 L346.88,172.60 L346.78,173.32 L346.69,174.04 L346.61,174.76 L346.54,175.48 L346.49,176.20 L336.31,176.20 L336.26,175.48 L336.19,174.76 L336.11,174.04 L336.02,173.32 L335.92,172.60 L335.81,171.88 L335.70,171.16 L335.58,170.45 L335.46,169.73 L335.34,169.01 L335.21,168.29 L335.08,167.57 L334.95,166.85 L334.81,166.13 L334.67,165.41 L334.52,164.69 L334.37,163.97 L334.21,163.25 L334.04,162.53 L333.85,161.81 L333.66,161.09 L333.45,160.37 L333.22,159.66 L332.97,158.94 L332.70,158.22 L332.41,157.50 L332.11,156.78 L331.80,156.06 L331.48,155.34 L331.17,154.62 L330.86,153.90 L330.57,153.18 L330.29,152.46 L330.02,151.74 L329.77,151.02 L329.53,150.30 L329.30,149.58 L329.09,148.87 L328.88,148.15 L328.70,147.43 L328.53,146.71 L328.40,145.99 L328.30,145.27 L328.23,144.55 L328.19,143.83 L328.18,143.11 L328.20,142.39 L328.23,141.67 L328.29,140.95 L328.35,140.23 L328.43,139.51 L328.53,138.79 L328.64,138.08 L328.77,137.36 L328.92,136.64 L329.09,135.92 L329.28,135.20 L329.47,134.48 L329.67,133.76 L329.87,133.04 L330.07,132.32 L330.25,131.60 L330.41,130.88 L330.56,130.16 L330.70,129.44 L330.82,128.72 L330.92,128.01 L331.02,127.29 L331.11,126.57 L331.20,125.85 L331.29,125.13 L331.38,124.41 L331.47,123.69 L331.56,122.97 L331.66,122.25 L331.75,121.53 L331.85,120.81 L331.95,120.09 L332.06,119.37 L332.16,118.65 L332.27,117.93 L332.37,117.22 L332.48,116.50 L332.59,115.78 L332.70,115.06 L332.81,114.34 L332.93,113.62 L333.04,112.90 L333.16,112.18 L333.28,111.46 L333.40,110.74 L333.52,110.02 L333.64,109.30 L333.76,108.58 L333.89,107.86 L334.02,107.14 L334.15,106.43 L334.28,105.71 L334.42,104.99 L334.56,104.27 L334.70,103.55 L334.85,102.83 L335.00,102.11 L335.15,101.39 L335.31,100.67 L335.47,99.95 L335.64,99.23 L335.81,98.51 L335.99,97.79 L336.18,97.07 L336.36,96.35 L336.55,95.64 L336.75,94.92 L336.95,94.20 L337.15,93.48 L337.34,92.76 L337.52,92.04 L337.67,91.32 L337.79,90.60 Z" fill="#32a6df" stroke="#0b2a40" stroke-width="1.15" stroke-linejoin="round"/>
<line x1="341.40" y1="115.60" x2="341.40" y2="151.50" stroke="#0a0a0a" stroke-width="1.0" />
<path d="M341.40,135.90 L344.30,138.80 L341.40,141.70 L338.50,138.80 Z" fill="#0a0a0a"/>
<path d="M398.48,85.60 L398.92,86.21 L399.44,86.83 L399.99,87.44 L400.53,88.05 L401.03,88.67 L401.47,89.28 L401.85,89.89 L402.17,90.51 L402.41,91.12 L402.60,91.73 L402.71,92.35 L402.76,92.96 L402.73,93.57 L402.63,94.19 L402.47,94.80 L402.26,95.42 L402.00,96.03 L401.72,96.64 L401.42,97.26 L401.12,97.87 L400.82,98.48 L400.53,99.10 L400.24,99.71 L399.96,100.32 L399.68,100.94 L399.40,101.55 L399.14,102.16 L398.88,102.78 L398.63,103.39 L398.40,104.00 L398.19,104.62 L398.00,105.23 L397.83,105.84 L397.69,106.46 L397.57,107.07 L397.47,107.68 L397.38,108.30 L397.30,108.91 L397.22,109.52 L397.15,110.14 L397.08,110.75 L397.01,111.36 L396.93,111.98 L396.85,112.59 L396.76,113.21 L396.66,113.82 L396.56,114.43 L396.44,115.05 L396.31,115.66 L396.19,116.27 L396.05,116.89 L395.92,117.50 L395.79,118.11 L395.65,118.73 L395.51,119.34 L395.37,119.95 L395.22,120.57 L395.05,121.18 L394.86,121.79 L394.64,122.41 L394.41,123.02 L394.15,123.63 L393.87,124.25 L393.58,124.86 L393.29,125.47 L392.99,126.09 L392.69,126.70 L392.41,127.31 L392.12,127.93 L391.85,128.54 L391.58,129.15 L391.31,129.77 L391.05,130.38 L390.79,130.99 L390.53,131.61 L390.27,132.22 L390.02,132.84 L389.77,133.45 L389.53,134.06 L389.29,134.68 L389.05,135.29 L388.82,135.90 L388.59,136.52 L388.36,137.13 L388.13,137.74 L387.90,138.36 L387.67,138.97 L387.44,139.58 L387.22,140.20 L387.00,140.81 L386.79,141.42 L386.60,142.04 L386.43,142.65 L386.28,143.26 L386.15,143.88 L386.04,144.49 L385.95,145.10 L385.89,145.72 L385.83,146.33 L385.79,146.94 L385.75,147.56 L385.71,148.17 L385.68,148.78 L385.64,149.40 L385.61,150.01 L385.59,150.63 L385.56,151.24 L385.54,151.85 L385.51,152.47 L385.49,153.08 L385.48,153.69 L385.46,154.31 L385.45,154.92 L385.43,155.53 L385.42,156.15 L385.42,156.76 L385.41,157.37 L385.41,157.99 L385.40,158.60 L382.00,158.60 L381.99,157.99 L381.99,157.37 L381.98,156.76 L381.98,156.15 L381.97,155.53 L381.95,154.92 L381.94,154.31 L381.92,153.69 L381.91,153.08 L381.89,152.47 L381.86,151.85 L381.84,151.24 L381.81,150.63 L381.79,150.01 L381.76,149.40 L381.72,148.78 L381.69,148.17 L381.65,147.56 L381.61,146.94 L381.57,146.33 L381.51,145.72 L381.45,145.10 L381.36,144.49 L381.25,143.88 L381.12,143.26 L380.97,142.65 L380.80,142.04 L380.61,141.42 L380.40,140.81 L380.18,140.20 L379.96,139.58 L379.73,138.97 L379.50,138.36 L379.27,137.74 L379.04,137.13 L378.81,136.52 L378.58,135.90 L378.35,135.29 L378.11,134.68 L377.87,134.06 L377.63,133.45 L377.38,132.84 L377.13,132.22 L376.87,131.61 L376.61,130.99 L376.35,130.38 L376.09,129.77 L375.82,129.15 L375.55,128.54 L375.28,127.93 L374.99,127.31 L374.71,126.70 L374.41,126.09 L374.11,125.47 L373.82,124.86 L373.53,124.25 L373.25,123.63 L372.99,123.02 L372.76,122.41 L372.54,121.79 L372.35,121.18 L372.18,120.57 L372.03,119.95 L371.89,119.34 L371.75,118.73 L371.61,118.11 L371.48,117.50 L371.35,116.89 L371.21,116.27 L371.09,115.66 L370.96,115.05 L370.84,114.43 L370.74,113.82 L370.64,113.21 L370.55,112.59 L370.47,111.98 L370.39,111.36 L370.32,110.75 L370.25,110.14 L370.18,109.52 L370.10,108.91 L370.02,108.30 L369.93,107.68 L369.83,107.07 L369.71,106.46 L369.57,105.84 L369.40,105.23 L369.21,104.62 L369.00,104.00 L368.77,103.39 L368.52,102.78 L368.26,102.16 L368.00,101.55 L367.72,100.94 L367.44,100.32 L367.16,99.71 L366.87,99.10 L366.58,98.48 L366.28,97.87 L365.98,97.26 L365.68,96.64 L365.40,96.03 L365.14,95.42 L364.93,94.80 L364.77,94.19 L364.67,93.57 L364.64,92.96 L364.69,92.35 L364.80,91.73 L364.99,91.12 L365.23,90.51 L365.55,89.89 L365.93,89.28 L366.37,88.67 L366.87,88.05 L367.41,87.44 L367.96,86.83 L368.48,86.21 L368.92,85.60 Z" fill="#37ab36" stroke="#163f19" stroke-width="1.15" stroke-linejoin="round"/>
<line x1="383.70" y1="92.60" x2="383.70" y2="115.80" stroke="#0a0a0a" stroke-width="1.0" />
<path d="M383.70,96.90 L386.60,99.80 L383.70,102.70 L380.80,99.80 Z" fill="#0a0a0a"/>
<path d="M447.18,84.40 L447.28,85.19 L447.42,85.99 L447.57,86.78 L447.75,87.58 L447.93,88.37 L448.12,89.16 L448.31,89.96 L448.50,90.75 L448.69,91.55 L448.89,92.34 L449.09,93.14 L449.29,93.93 L449.49,94.72 L449.69,95.52 L449.89,96.31 L450.10,97.11 L450.31,97.90 L450.52,98.69 L450.73,99.49 L450.94,100.28 L451.16,101.08 L451.37,101.87 L451.59,102.66 L451.81,103.46 L452.03,104.25 L452.25,105.05 L452.49,105.84 L452.73,106.64 L452.98,107.43 L453.23,108.22 L453.49,109.02 L453.75,109.81 L454.00,110.61 L454.23,111.40 L454.44,112.19 L454.61,112.99 L454.76,113.78 L454.87,114.58 L454.96,115.37 L455.02,116.16 L455.06,116.96 L455.10,117.75 L455.12,118.55 L455.14,119.34 L455.16,120.14 L455.18,120.93 L455.20,121.72 L455.22,122.52 L455.25,123.31 L455.28,124.11 L455.33,124.90 L455.38,125.69 L455.44,126.49 L455.51,127.28 L455.60,128.08 L455.69,128.87 L455.80,129.66 L455.91,130.46 L456.04,131.25 L456.17,132.05 L456.31,132.84 L456.47,133.64 L456.64,134.43 L456.82,135.22 L457.02,136.02 L457.22,136.81 L457.44,137.61 L457.67,138.40 L457.90,139.19 L458.14,139.99 L458.39,140.78 L458.63,141.58 L458.89,142.37 L459.15,143.16 L459.42,143.96 L459.69,144.75 L459.98,145.55 L460.27,146.34 L460.57,147.14 L460.87,147.93 L461.17,148.72 L461.46,149.52 L461.75,150.31 L462.02,151.11 L462.28,151.90 L462.52,152.69 L462.75,153.49 L462.97,154.28 L463.19,155.08 L463.39,155.87 L463.58,156.66 L463.76,157.46 L463.92,158.25 L464.05,159.05 L464.14,159.84 L464.19,160.64 L464.19,161.43 L464.11,162.22 L463.96,163.02 L463.73,163.81 L463.42,164.61 L463.04,165.40 L462.61,166.19 L462.13,166.99 L461.62,167.78 L461.07,168.58 L460.49,169.37 L459.87,170.16 L459.23,170.96 L458.56,171.75 L457.88,172.55 L457.21,173.34 L456.57,174.14 L455.97,174.93 L455.42,175.72 L454.93,176.52 L454.51,177.31 L454.17,178.11 L453.91,178.90 L436.49,178.90 L436.23,178.11 L435.89,177.31 L435.47,176.52 L434.98,175.72 L434.43,174.93 L433.83,174.14 L433.19,173.34 L432.52,172.55 L431.84,171.75 L431.17,170.96 L430.53,170.16 L429.91,169.37 L429.33,168.58 L428.78,167.78 L428.27,166.99 L427.79,166.19 L427.36,165.40 L426.98,164.61 L426.67,163.81 L426.44,163.02 L426.29,162.22 L426.21,161.43 L426.21,160.64 L426.26,159.84 L426.35,159.05 L426.48,158.25 L426.64,157.46 L426.82,156.66 L427.01,155.87 L427.21,155.08 L427.43,154.28 L427.65,153.49 L427.88,152.69 L428.12,151.90 L428.38,151.11 L428.65,150.31 L428.94,149.52 L429.23,148.72 L429.53,147.93 L429.83,147.14 L430.13,146.34 L430.42,145.55 L430.71,144.75 L430.98,143.96 L431.25,143.16 L431.51,142.37 L431.77,141.58 L432.01,140.78 L432.26,139.99 L432.50,139.19 L432.73,138.40 L432.96,137.61 L433.18,136.81 L433.38,136.02 L433.58,135.22 L433.76,134.43 L433.93,133.64 L434.09,132.84 L434.23,132.05 L434.36,131.25 L434.49,130.46 L434.60,129.66 L434.71,128.87 L434.80,128.08 L434.89,127.28 L434.96,126.49 L435.02,125.69 L435.07,124.90 L435.12,124.11 L435.15,123.31 L435.18,122.52 L435.20,121.72 L435.22,120.93 L435.24,120.14 L435.26,119.34 L435.28,118.55 L435.30,117.75 L435.34,116.96 L435.38,116.16 L435.44,115.37 L435.53,114.58 L435.64,113.78 L435.79,112.99 L435.96,112.19 L436.17,111.40 L436.40,110.61 L436.65,109.81 L436.91,109.02 L437.17,108.22 L437.42,107.43 L437.67,106.64 L437.91,105.84 L438.15,105.05 L438.37,104.25 L438.59,103.46 L438.81,102.66 L439.03,101.87 L439.24,101.08 L439.46,100.28 L439.67,99.49 L439.88,98.69 L440.09,97.90 L440.30,97.11 L440.51,96.31 L440.71,95.52 L440.91,94.72 L441.11,93.93 L441.31,93.14 L441.51,92.34 L441.71,91.55 L441.90,90.75 L442.09,89.96 L442.28,89.16 L442.47,88.37 L442.65,87.58 L442.83,86.78 L442.98,85.99 L443.12,85.19 L443.22,84.40 Z" fill="#32a6df" stroke="#0b2a40" stroke-width="1.15" stroke-linejoin="round"/>
<line x1="445.20" y1="122.70" x2="445.20" y2="164.80" stroke="#0a0a0a" stroke-width="1.0" />
<path d="M445.20,144.10 L448.10,147.00 L445.20,149.90 L442.30,147.00 Z" fill="#0a0a0a"/>
<path d="M488.73,41.30 L488.75,42.31 L488.77,43.32 L488.80,44.33 L488.84,45.33 L488.88,46.34 L488.93,47.35 L488.98,48.36 L489.03,49.37 L489.08,50.38 L489.15,51.38 L489.22,52.39 L489.30,53.40 L489.40,54.41 L489.53,55.42 L489.68,56.43 L489.87,57.43 L490.10,58.44 L490.36,59.45 L490.64,60.46 L490.96,61.47 L491.29,62.48 L491.63,63.48 L492.00,64.49 L492.38,65.50 L492.78,66.51 L493.20,67.52 L493.65,68.53 L494.13,69.54 L494.64,70.54 L495.18,71.55 L495.76,72.56 L496.35,73.57 L496.96,74.58 L497.58,75.59 L498.20,76.59 L498.82,77.60 L499.43,78.61 L500.04,79.62 L500.63,80.63 L501.21,81.64 L501.76,82.64 L502.28,83.65 L502.78,84.66 L503.25,85.67 L503.69,86.68 L504.12,87.69 L504.53,88.69 L504.93,89.70 L505.32,90.71 L505.69,91.72 L506.05,92.73 L506.38,93.74 L506.64,94.75 L506.82,95.75 L506.88,96.76 L506.82,97.77 L506.63,98.78 L506.34,99.79 L505.97,100.80 L505.54,101.80 L505.09,102.81 L504.63,103.82 L504.17,104.83 L503.71,105.84 L503.26,106.85 L502.82,107.85 L502.40,108.86 L501.99,109.87 L501.59,110.88 L501.21,111.89 L500.85,112.90 L500.52,113.91 L500.23,114.91 L499.97,115.92 L499.76,116.93 L499.59,117.94 L499.46,118.95 L499.36,119.96 L499.27,120.96 L499.20,121.97 L499.13,122.98 L499.04,123.99 L498.95,125.00 L498.83,126.01 L498.70,127.01 L498.54,128.02 L498.37,129.03 L498.18,130.04 L497.98,131.05 L497.76,132.06 L497.53,133.06 L497.28,134.07 L497.02,135.08 L496.74,136.09 L496.44,137.10 L496.13,138.11 L495.82,139.12 L495.50,140.12 L495.18,141.13 L494.87,142.14 L494.58,143.15 L494.30,144.16 L494.03,145.17 L493.78,146.17 L493.54,147.18 L493.32,148.19 L493.10,149.20 L492.90,150.21 L492.70,151.22 L492.52,152.22 L492.34,153.23 L492.18,154.24 L492.02,155.25 L491.88,156.26 L491.75,157.27 L491.64,158.27 L491.54,159.28 L491.46,160.29 L491.40,161.30 L484.40,161.30 L484.34,160.29 L484.26,159.28 L484.16,158.27 L484.05,157.27 L483.92,156.26 L483.78,155.25 L483.62,154.24 L483.46,153.23 L483.28,152.22 L483.10,151.22 L482.90,150.21 L482.70,149.20 L482.48,148.19 L482.26,147.18 L482.02,146.17 L481.77,145.17 L481.50,144.16 L481.22,143.15 L480.93,142.14 L480.62,141.13 L480.30,140.12 L479.98,139.12 L479.67,138.11 L479.36,137.10 L479.06,136.09 L478.78,135.08 L478.52,134.07 L478.27,133.06 L478.04,132.06 L477.82,131.05 L477.62,130.04 L477.43,129.03 L477.26,128.02 L477.10,127.01 L476.97,126.01 L476.85,125.00 L476.76,123.99 L476.67,122.98 L476.60,121.97 L476.53,120.96 L476.44,119.96 L476.34,118.95 L476.21,117.94 L476.04,116.93 L475.83,115.92 L475.57,114.91 L475.28,113.91 L474.95,112.90 L474.59,111.89 L474.21,110.88 L473.81,109.87 L473.40,108.86 L472.98,107.85 L472.54,106.85 L472.09,105.84 L471.63,104.83 L471.17,103.82 L470.71,102.81 L470.26,101.80 L469.83,100.80 L469.46,99.79 L469.17,98.78 L468.98,97.77 L468.92,96.76 L468.98,95.75 L469.16,94.75 L469.42,93.74 L469.75,92.73 L470.11,91.72 L470.48,90.71 L470.87,89.70 L471.27,88.69 L471.68,87.69 L472.11,86.68 L472.55,85.67 L473.02,84.66 L473.52,83.65 L474.04,82.64 L474.59,81.64 L475.17,80.63 L475.76,79.62 L476.37,78.61 L476.98,77.60 L477.60,76.59 L478.22,75.59 L478.84,74.58 L479.45,73.57 L480.04,72.56 L480.62,71.55 L481.16,70.54 L481.67,69.54 L482.15,68.53 L482.60,67.52 L483.02,66.51 L483.42,65.50 L483.80,64.49 L484.17,63.48 L484.51,62.48 L484.84,61.47 L485.16,60.46 L485.44,59.45 L485.70,58.44 L485.93,57.43 L486.12,56.43 L486.27,55.42 L486.40,54.41 L486.50,53.40 L486.58,52.39 L486.65,51.38 L486.72,50.38 L486.77,49.37 L486.82,48.36 L486.87,47.35 L486.92,46.34 L486.96,45.33 L487.00,44.33 L487.03,43.32 L487.05,42.31 L487.07,41.30 Z" fill="#37ab36" stroke="#163f19" stroke-width="1.15" stroke-linejoin="round"/>
<line x1="487.90" y1="92.30" x2="487.90" y2="128.90" stroke="#0a0a0a" stroke-width="1.0" />
<path d="M487.90,98.90 L490.80,101.80 L487.90,104.70 L485.00,101.80 Z" fill="#0a0a0a"/>
<path d="M341.20,65.80 L341.20,61.80 L383.80,61.80 L383.80,65.80" fill="none" stroke="#262626" stroke-width="1.0"/>
<rect x="358.20" y="56.40" width="2.0" height="2.0" fill="#2a2a2a"/>
<rect x="361.30" y="56.40" width="2.0" height="2.0" fill="#2a2a2a"/>
<rect x="364.40" y="56.40" width="2.0" height="2.0" fill="#2a2a2a"/>
<path d="M445.40,44.30 L445.40,40.30 L488.10,40.30 L488.10,40.30" fill="none" stroke="#262626" stroke-width="1.0"/>
<rect x="462.80" y="35.10" width="2.0" height="2.0" fill="#2a2a2a"/>
<rect x="465.90" y="35.10" width="2.0" height="2.0" fill="#2a2a2a"/>
<rect x="469.00" y="35.10" width="2.0" height="2.0" fill="#2a2a2a"/>
<text stroke="#222" stroke-width="0.12" transform="translate(340.50,198.00) rotate(-45)" font-size="7.8" text-anchor="end" fill="#222"><tspan x="0" y="-1.4">Lost</tspan><tspan x="0" y="9.2">n = 34 ITDs</tspan></text>
<text stroke="#222" stroke-width="0.12" transform="translate(383.00,198.00) rotate(-45)" font-size="7.8" text-anchor="end" fill="#222"><tspan x="0" y="-1.4">Retained</tspan><tspan x="0" y="9.2">n = 27 ITDs</tspan></text>
<text stroke="#222" stroke-width="0.12" transform="translate(445.70,198.80) rotate(-45)" font-size="7.8" text-anchor="end" fill="#222"><tspan x="0" y="-1.4">Lost</tspan><tspan x="0" y="9.2">n = 85 ITDs</tspan></text>
<text stroke="#222" stroke-width="0.12" transform="translate(488.00,198.60) rotate(-45)" font-size="7.8" text-anchor="end" fill="#222"><tspan x="0" y="-1.4">Retained</tspan><tspan x="0" y="9.2">n = 72 ITDs</tspan></text>
<text x="7.30" y="261.30" font-size="11.5" text-anchor="start" fill="#000" stroke="#000" stroke-width="0.12" font-weight="bold" style="stroke-width:0.45">C</text>
<text x="92.60" y="275.80" font-size="9.5" text-anchor="start" fill="#222" stroke="#222" stroke-width="0.12" >Evolution of <tspan font-style="italic">FLT3</tspan>-ITD microclones</text>
<line x1="55.50" y1="282.00" x2="55.50" y2="434.80" stroke="#1a1a1a" stroke-width="1.1" />
<line x1="53.90" y1="433.44" x2="55.50" y2="433.44" stroke="#1a1a1a" stroke-width="0.8" />
<line x1="53.90" y1="427.34" x2="55.50" y2="427.34" stroke="#1a1a1a" stroke-width="0.8" />
<line x1="53.90" y1="423.01" x2="55.50" y2="423.01" stroke="#1a1a1a" stroke-width="0.8" />
<line x1="53.50" y1="419.65" x2="55.50" y2="419.65" stroke="#1a1a1a" stroke-width="0.8" />
<line x1="53.90" y1="416.90" x2="55.50" y2="416.90" stroke="#1a1a1a" stroke-width="0.8" />
<line x1="53.90" y1="414.58" x2="55.50" y2="414.58" stroke="#1a1a1a" stroke-width="0.8" />
<line x1="53.90" y1="412.57" x2="55.50" y2="412.57" stroke="#1a1a1a" stroke-width="0.8" />
<line x1="53.90" y1="410.80" x2="55.50" y2="410.80" stroke="#1a1a1a" stroke-width="0.8" />
<line x1="52.50" y1="409.21" x2="55.50" y2="409.21" stroke="#1a1a1a" stroke-width="1.2" />
<text x="42.10" y="411.71" font-size="7.9" text-anchor="end" fill="#222" stroke="#222" stroke-width="0.12">10</text>
<text x="42.60" y="408.91" font-size="5.8" letter-spacing="-0.5" fill="#222" stroke="#222" stroke-width="0.08">&#8722;3</text>
<line x1="53.90" y1="398.77" x2="55.50" y2="398.77" stroke="#1a1a1a" stroke-width="0.8" />
<line x1="53.90" y1="392.67" x2="55.50" y2="392.67" stroke="#1a1a1a" stroke-width="0.8" />
<line x1="53.90" y1="388.34" x2="55.50" y2="388.34" stroke="#1a1a1a" stroke-width="0.8" />
<line x1="53.50" y1="384.98" x2="55.50" y2="384.98" stroke="#1a1a1a" stroke-width="0.8" />
<line x1="53.90" y1="382.23" x2="55.50" y2="382.23" stroke="#1a1a1a" stroke-width="0.8" />
<line x1="53.90" y1="379.91" x2="55.50" y2="379.91" stroke="#1a1a1a" stroke-width="0.8" />
<line x1="53.90" y1="377.90" x2="55.50" y2="377.90" stroke="#1a1a1a" stroke-width="0.8" />
<line x1="53.90" y1="376.13" x2="55.50" y2="376.13" stroke="#1a1a1a" stroke-width="0.8" />
<line x1="52.50" y1="374.54" x2="55.50" y2="374.54" stroke="#1a1a1a" stroke-width="1.2" />
<text x="42.10" y="377.04" font-size="7.9" text-anchor="end" fill="#222" stroke="#222" stroke-width="0.12">10</text>
<text x="42.60" y="374.24" font-size="5.8" letter-spacing="-0.5" fill="#222" stroke="#222" stroke-width="0.08">&#8722;2</text>
<line x1="53.90" y1="364.10" x2="55.50" y2="364.10" stroke="#1a1a1a" stroke-width="0.8" />
<line x1="53.90" y1="358.00" x2="55.50" y2="358.00" stroke="#1a1a1a" stroke-width="0.8" />
<line x1="53.90" y1="353.67" x2="55.50" y2="353.67" stroke="#1a1a1a" stroke-width="0.8" />
<line x1="53.50" y1="350.31" x2="55.50" y2="350.31" stroke="#1a1a1a" stroke-width="0.8" />
<line x1="53.90" y1="347.56" x2="55.50" y2="347.56" stroke="#1a1a1a" stroke-width="0.8" />
<line x1="53.90" y1="345.24" x2="55.50" y2="345.24" stroke="#1a1a1a" stroke-width="0.8" />
<line x1="53.90" y1="343.23" x2="55.50" y2="343.23" stroke="#1a1a1a" stroke-width="0.8" />
<line x1="53.90" y1="341.46" x2="55.50" y2="341.46" stroke="#1a1a1a" stroke-width="0.8" />
<line x1="52.50" y1="339.87" x2="55.50" y2="339.87" stroke="#1a1a1a" stroke-width="1.2" />
<text x="42.10" y="342.37" font-size="7.9" text-anchor="end" fill="#222" stroke="#222" stroke-width="0.12">10</text>
<text x="42.60" y="339.57" font-size="5.8" letter-spacing="-0.5" fill="#222" stroke="#222" stroke-width="0.08">&#8722;1</text>
<line x1="53.90" y1="329.43" x2="55.50" y2="329.43" stroke="#1a1a1a" stroke-width="0.8" />
<line x1="53.90" y1="323.33" x2="55.50" y2="323.33" stroke="#1a1a1a" stroke-width="0.8" />
<line x1="53.90" y1="319.00" x2="55.50" y2="319.00" stroke="#1a1a1a" stroke-width="0.8" />
<line x1="53.50" y1="315.64" x2="55.50" y2="315.64" stroke="#1a1a1a" stroke-width="0.8" />
<line x1="53.90" y1="312.89" x2="55.50" y2="312.89" stroke="#1a1a1a" stroke-width="0.8" />
<line x1="53.90" y1="310.57" x2="55.50" y2="310.57" stroke="#1a1a1a" stroke-width="0.8" />
<line x1="53.90" y1="308.56" x2="55.50" y2="308.56" stroke="#1a1a1a" stroke-width="0.8" />
<line x1="53.90" y1="306.79" x2="55.50" y2="306.79" stroke="#1a1a1a" stroke-width="0.8" />
<line x1="52.50" y1="305.20" x2="55.50" y2="305.20" stroke="#1a1a1a" stroke-width="1.2" />
<text x="45.40" y="307.70" font-size="7.9" text-anchor="end" fill="#222" stroke="#222" stroke-width="0.12">10</text>
<text x="45.90" y="304.90" font-size="5.8" letter-spacing="-0.5" fill="#222" stroke="#222" stroke-width="0.08">0</text>
<line x1="53.90" y1="294.76" x2="55.50" y2="294.76" stroke="#1a1a1a" stroke-width="0.8" />
<line x1="53.90" y1="288.66" x2="55.50" y2="288.66" stroke="#1a1a1a" stroke-width="0.8" />
<line x1="53.90" y1="284.33" x2="55.50" y2="284.33" stroke="#1a1a1a" stroke-width="0.8" />
<line x1="55.00" y1="434.30" x2="274.60" y2="434.30" stroke="#1a1a1a" stroke-width="1.1" />
<line x1="115.10" y1="434.30" x2="115.10" y2="437.30" stroke="#1a1a1a" stroke-width="1.1" />
<line x1="215.00" y1="434.30" x2="215.00" y2="437.30" stroke="#1a1a1a" stroke-width="1.1" />
<text transform="translate(26.80,358.40) rotate(-90) scale(0.62,1)" font-size="9.4" text-anchor="middle" fill="#222" stroke="#222" stroke-width="0.3">AR</text>
<text x="115.10" y="448.00" font-size="8.0" text-anchor="middle" fill="#222" stroke="#222" stroke-width="0.12" >Diagnosis</text>
<text x="115.10" y="457.70" font-size="8.0" text-anchor="middle" fill="#222" stroke="#222" stroke-width="0.12" >n = 117 ITDs</text>
<text x="215.00" y="448.00" font-size="8.0" text-anchor="middle" fill="#222" stroke="#222" stroke-width="0.12" >Relapse</text>
<text x="215.00" y="457.70" font-size="8.0" text-anchor="middle" fill="#222" stroke="#222" stroke-width="0.12" >n = 28 ITDs</text>
<text x="275.80" y="352.80" font-size="8.1" text-anchor="start" fill="#a8784a" stroke="#a8784a" stroke-width="0.12" >0.05</text>
<line x1="115.10" y1="361.60" x2="215.00" y2="288.30" stroke="#2e578a" stroke-width="0.85" />
<line x1="115.10" y1="358.80" x2="215.00" y2="305.70" stroke="#2e578a" stroke-width="0.85" />
<line x1="115.10" y1="354.00" x2="215.00" y2="309.40" stroke="#2e578a" stroke-width="0.85" />
<line x1="115.10" y1="365.80" x2="215.00" y2="311.00" stroke="#2e578a" stroke-width="0.85" />
<line x1="115.10" y1="357.00" x2="215.00" y2="314.90" stroke="#2e578a" stroke-width="0.85" />
<line x1="115.10" y1="368.00" x2="215.00" y2="319.40" stroke="#2e578a" stroke-width="0.85" />
<line x1="115.10" y1="372.30" x2="215.00" y2="324.60" stroke="#2e578a" stroke-width="0.85" />
<line x1="115.10" y1="366.60" x2="215.00" y2="331.40" stroke="#2e578a" stroke-width="0.85" />
<line x1="115.10" y1="377.00" x2="215.00" y2="334.70" stroke="#2e578a" stroke-width="0.85" />
<line x1="115.10" y1="364.40" x2="215.00" y2="342.90" stroke="#2e578a" stroke-width="0.85" />
<line x1="115.10" y1="359.30" x2="215.00" y2="359.50" stroke="#2e578a" stroke-width="0.85" />
<line x1="115.10" y1="398.40" x2="215.00" y2="361.30" stroke="#2e578a" stroke-width="0.85" />
<line x1="115.10" y1="381.70" x2="215.00" y2="364.80" stroke="#2e578a" stroke-width="0.85" />
<line x1="115.10" y1="372.00" x2="215.00" y2="366.40" stroke="#2e578a" stroke-width="0.85" />
<line x1="115.10" y1="362.00" x2="215.00" y2="369.90" stroke="#2e578a" stroke-width="0.85" />
<line x1="115.10" y1="352.00" x2="215.00" y2="373.50" stroke="#2e578a" stroke-width="0.85" />
<line x1="115.10" y1="356.00" x2="215.00" y2="380.70" stroke="#2e578a" stroke-width="0.85" />
<line x1="115.10" y1="397.00" x2="215.00" y2="383.30" stroke="#2e578a" stroke-width="0.85" />
<line x1="115.10" y1="404.00" x2="215.00" y2="391.50" stroke="#2e578a" stroke-width="0.85" />
<line x1="115.10" y1="358.00" x2="215.00" y2="387.80" stroke="#2e578a" stroke-width="0.85" />
<line x1="115.10" y1="363.00" x2="215.00" y2="389.40" stroke="#2e578a" stroke-width="0.85" />
<line x1="115.10" y1="377.00" x2="215.00" y2="389.00" stroke="#2e578a" stroke-width="0.85" />
<line x1="115.10" y1="365.00" x2="215.00" y2="407.80" stroke="#2e578a" stroke-width="0.85" />
<line x1="115.10" y1="360.00" x2="215.00" y2="416.70" stroke="#2e578a" stroke-width="0.85" />
<line x1="115.10" y1="400.00" x2="215.00" y2="385.80" stroke="#2e578a" stroke-width="0.85" />
<line x1="115.10" y1="354.00" x2="215.00" y2="382.00" stroke="#2e578a" stroke-width="0.85" />
<line x1="115.10" y1="376.00" x2="215.00" y2="370.00" stroke="#2e578a" stroke-width="0.85" />
<line x1="115.10" y1="351.00" x2="215.00" y2="365.00" stroke="#2e578a" stroke-width="0.85" />
<circle cx="115.1" cy="350.30" r="1.2" fill="#123e78"/>
<circle cx="115.1" cy="350.90" r="1.2" fill="#123e78"/>
<circle cx="115.1" cy="351.51" r="1.2" fill="#123e78"/>
<circle cx="115.1" cy="352.11" r="1.2" fill="#123e78"/>
<circle cx="115.1" cy="352.72" r="1.2" fill="#123e78"/>
<circle cx="115.1" cy="353.32" r="1.2" fill="#123e78"/>
<circle cx="115.1" cy="353.93" r="1.2" fill="#123e78"/>
<circle cx="115.1" cy="354.53" r="1.2" fill="#123e78"/>
<circle cx="115.1" cy="355.14" r="1.2" fill="#123e78"/>
<circle cx="115.1" cy="355.74" r="1.2" fill="#123e78"/>
<circle cx="115.1" cy="356.34" r="1.2" fill="#123e78"/>
<circle cx="115.1" cy="356.95" r="1.2" fill="#123e78"/>
<circle cx="115.1" cy="357.55" r="1.2" fill="#123e78"/>
<circle cx="115.1" cy="358.16" r="1.2" fill="#123e78"/>
<circle cx="115.1" cy="358.76" r="1.2" fill="#123e78"/>
<circle cx="115.1" cy="359.37" r="1.2" fill="#123e78"/>
<circle cx="115.1" cy="359.97" r="1.2" fill="#123e78"/>
<circle cx="115.1" cy="360.58" r="1.2" fill="#123e78"/>
<circle cx="115.1" cy="361.18" r="1.2" fill="#123e78"/>
<circle cx="115.1" cy="361.78" r="1.2" fill="#123e78"/>
<circle cx="115.1" cy="362.39" r="1.2" fill="#123e78"/>
<circle cx="115.1" cy="362.99" r="1.2" fill="#123e78"/>
<circle cx="115.1" cy="363.60" r="1.2" fill="#123e78"/>
<circle cx="115.1" cy="364.20" r="1.2" fill="#123e78"/>
<circle cx="115.1" cy="364.81" r="1.2" fill="#123e78"/>
<circle cx="115.1" cy="365.41" r="1.2" fill="#123e78"/>
<circle cx="115.1" cy="366.02" r="1.2" fill="#123e78"/>
<circle cx="115.1" cy="366.62" r="1.2" fill="#123e78"/>
<circle cx="115.1" cy="367.23" r="1.2" fill="#123e78"/>
<circle cx="115.1" cy="367.83" r="1.2" fill="#123e78"/>
<circle cx="115.1" cy="368.43" r="1.2" fill="#123e78"/>
<circle cx="115.1" cy="369.04" r="1.2" fill="#123e78"/>
<circle cx="115.1" cy="369.64" r="1.2" fill="#123e78"/>
<circle cx="115.1" cy="370.25" r="1.2" fill="#123e78"/>
<circle cx="115.1" cy="370.85" r="1.2" fill="#123e78"/>
<circle cx="115.1" cy="371.46" r="1.2" fill="#123e78"/>
<circle cx="115.1" cy="372.06" r="1.2" fill="#123e78"/>
<circle cx="115.1" cy="372.67" r="1.2" fill="#123e78"/>
<circle cx="115.1" cy="373.27" r="1.2" fill="#123e78"/>
<circle cx="115.1" cy="373.87" r="1.2" fill="#123e78"/>
<circle cx="115.1" cy="374.48" r="1.2" fill="#123e78"/>
<circle cx="115.1" cy="375.08" r="1.2" fill="#123e78"/>
<circle cx="115.1" cy="375.69" r="1.2" fill="#123e78"/>
<circle cx="115.1" cy="376.29" r="1.2" fill="#123e78"/>
<circle cx="115.1" cy="376.90" r="1.2" fill="#123e78"/>
<circle cx="115.1" cy="377.50" r="1.2" fill="#123e78"/>
<circle cx="115.1" cy="378.11" r="1.2" fill="#123e78"/>
<circle cx="115.1" cy="378.71" r="1.2" fill="#123e78"/>
<circle cx="115.1" cy="379.31" r="1.2" fill="#123e78"/>
<circle cx="115.1" cy="379.92" r="1.2" fill="#123e78"/>
<circle cx="115.1" cy="380.52" r="1.2" fill="#123e78"/>
<circle cx="115.1" cy="381.13" r="1.2" fill="#123e78"/>
<circle cx="115.1" cy="381.73" r="1.2" fill="#123e78"/>
<circle cx="115.1" cy="382.34" r="1.2" fill="#123e78"/>
<circle cx="115.1" cy="382.94" r="1.2" fill="#123e78"/>
<circle cx="115.1" cy="383.55" r="1.2" fill="#123e78"/>
<circle cx="115.1" cy="384.15" r="1.2" fill="#123e78"/>
<circle cx="115.1" cy="384.75" r="1.2" fill="#123e78"/>
<circle cx="115.1" cy="385.36" r="1.2" fill="#123e78"/>
<circle cx="115.1" cy="385.96" r="1.2" fill="#123e78"/>
<circle cx="115.1" cy="386.57" r="1.2" fill="#123e78"/>
<circle cx="115.1" cy="387.17" r="1.2" fill="#123e78"/>
<circle cx="115.1" cy="387.78" r="1.2" fill="#123e78"/>
<circle cx="115.1" cy="388.38" r="1.2" fill="#123e78"/>
<circle cx="115.1" cy="388.99" r="1.2" fill="#123e78"/>
<circle cx="115.1" cy="389.59" r="1.2" fill="#123e78"/>
<circle cx="115.1" cy="390.19" r="1.2" fill="#123e78"/>
<circle cx="115.1" cy="390.80" r="1.2" fill="#123e78"/>
<circle cx="115.1" cy="391.40" r="1.2" fill="#123e78"/>
<circle cx="115.1" cy="392.01" r="1.2" fill="#123e78"/>
<circle cx="115.1" cy="392.61" r="1.2" fill="#123e78"/>
<circle cx="115.1" cy="393.22" r="1.2" fill="#123e78"/>
<circle cx="115.1" cy="393.82" r="1.2" fill="#123e78"/>
<circle cx="115.1" cy="394.43" r="1.2" fill="#123e78"/>
<circle cx="115.1" cy="395.03" r="1.2" fill="#123e78"/>
<circle cx="115.1" cy="395.63" r="1.2" fill="#123e78"/>
<circle cx="115.1" cy="396.24" r="1.2" fill="#123e78"/>
<circle cx="115.1" cy="396.84" r="1.2" fill="#123e78"/>
<circle cx="115.1" cy="397.45" r="1.2" fill="#123e78"/>
<circle cx="115.1" cy="398.05" r="1.2" fill="#123e78"/>
<circle cx="115.1" cy="398.66" r="1.2" fill="#123e78"/>
<circle cx="115.1" cy="399.26" r="1.2" fill="#123e78"/>
<circle cx="115.1" cy="399.87" r="1.2" fill="#123e78"/>
<circle cx="115.1" cy="400.47" r="1.2" fill="#123e78"/>
<circle cx="115.1" cy="401.07" r="1.2" fill="#123e78"/>
<circle cx="115.1" cy="401.68" r="1.2" fill="#123e78"/>
<circle cx="115.1" cy="402.28" r="1.2" fill="#123e78"/>
<circle cx="115.1" cy="402.89" r="1.2" fill="#123e78"/>
<circle cx="115.1" cy="403.49" r="1.2" fill="#123e78"/>
<circle cx="115.1" cy="404.10" r="1.2" fill="#123e78"/>
<circle cx="115.1" cy="404.70" r="1.2" fill="#123e78"/>
<circle cx="115.1" cy="405.31" r="1.2" fill="#123e78"/>
<circle cx="115.1" cy="405.91" r="1.2" fill="#123e78"/>
<circle cx="115.1" cy="406.52" r="1.2" fill="#123e78"/>
<circle cx="115.1" cy="407.12" r="1.2" fill="#123e78"/>
<circle cx="115.1" cy="407.72" r="1.2" fill="#123e78"/>
<circle cx="115.1" cy="408.33" r="1.2" fill="#123e78"/>
<circle cx="115.1" cy="408.93" r="1.2" fill="#123e78"/>
<circle cx="115.1" cy="409.54" r="1.2" fill="#123e78"/>
<circle cx="115.1" cy="410.14" r="1.2" fill="#123e78"/>
<circle cx="115.1" cy="410.75" r="1.2" fill="#123e78"/>
<circle cx="115.1" cy="411.35" r="1.2" fill="#123e78"/>
<circle cx="115.1" cy="411.96" r="1.2" fill="#123e78"/>
<circle cx="115.1" cy="412.56" r="1.2" fill="#123e78"/>
<circle cx="115.1" cy="413.16" r="1.2" fill="#123e78"/>
<circle cx="115.1" cy="413.77" r="1.2" fill="#123e78"/>
<circle cx="115.1" cy="414.37" r="1.2" fill="#123e78"/>
<circle cx="115.1" cy="414.98" r="1.2" fill="#123e78"/>
<circle cx="115.1" cy="415.58" r="1.2" fill="#123e78"/>
<circle cx="115.1" cy="416.19" r="1.2" fill="#123e78"/>
<circle cx="115.1" cy="416.79" r="1.2" fill="#123e78"/>
<circle cx="115.1" cy="417.40" r="1.2" fill="#123e78"/>
<circle cx="115.1" cy="418.00" r="1.2" fill="#123e78"/>
<circle cx="115.1" cy="420.40" r="1.2" fill="#123e78"/>
<circle cx="115.1" cy="423.20" r="1.2" fill="#123e78"/>
<circle cx="115.1" cy="425.50" r="1.2" fill="#123e78"/>
<circle cx="115.1" cy="427.90" r="1.2" fill="#123e78"/>
<circle cx="215.0" cy="288.30" r="1.3" fill="#0f2a50"/>
<circle cx="215.0" cy="305.70" r="1.3" fill="#0f2a50"/>
<circle cx="215.0" cy="309.40" r="1.3" fill="#0f2a50"/>
<circle cx="215.0" cy="311.00" r="1.3" fill="#0f2a50"/>
<circle cx="215.0" cy="314.90" r="1.3" fill="#0f2a50"/>
<circle cx="215.0" cy="319.40" r="1.3" fill="#0f2a50"/>
<circle cx="215.0" cy="324.60" r="1.3" fill="#0f2a50"/>
<circle cx="215.0" cy="331.40" r="1.3" fill="#0f2a50"/>
<circle cx="215.0" cy="334.70" r="1.3" fill="#0f2a50"/>
<circle cx="215.0" cy="342.90" r="1.3" fill="#0f2a50"/>
<circle cx="215.0" cy="359.50" r="1.3" fill="#0f2a50"/>
<circle cx="215.0" cy="361.30" r="1.3" fill="#0f2a50"/>
<circle cx="215.0" cy="364.80" r="1.3" fill="#0f2a50"/>
<circle cx="215.0" cy="366.40" r="1.3" fill="#0f2a50"/>
<circle cx="215.0" cy="369.90" r="1.3" fill="#0f2a50"/>
<circle cx="215.0" cy="373.50" r="1.3" fill="#0f2a50"/>
<circle cx="215.0" cy="380.70" r="1.3" fill="#0f2a50"/>
<circle cx="215.0" cy="383.30" r="1.3" fill="#0f2a50"/>
<circle cx="215.0" cy="391.50" r="1.3" fill="#0f2a50"/>
<circle cx="215.0" cy="387.80" r="1.3" fill="#0f2a50"/>
<circle cx="215.0" cy="389.40" r="1.3" fill="#0f2a50"/>
<circle cx="215.0" cy="389.00" r="1.3" fill="#0f2a50"/>
<circle cx="215.0" cy="407.80" r="1.3" fill="#0f2a50"/>
<circle cx="215.0" cy="416.70" r="1.3" fill="#0f2a50"/>
<circle cx="215.0" cy="385.80" r="1.3" fill="#0f2a50"/>
<circle cx="215.0" cy="382.00" r="1.3" fill="#0f2a50"/>
<circle cx="215.0" cy="370.00" r="1.3" fill="#0f2a50"/>
<circle cx="215.0" cy="365.00" r="1.3" fill="#0f2a50"/>
<line x1="55.4" y1="350.1" x2="270.3" y2="350.1" stroke="#c58a4e" stroke-width="1.2" stroke-dasharray="5 4.11"/>
</svg>
</body></html>
